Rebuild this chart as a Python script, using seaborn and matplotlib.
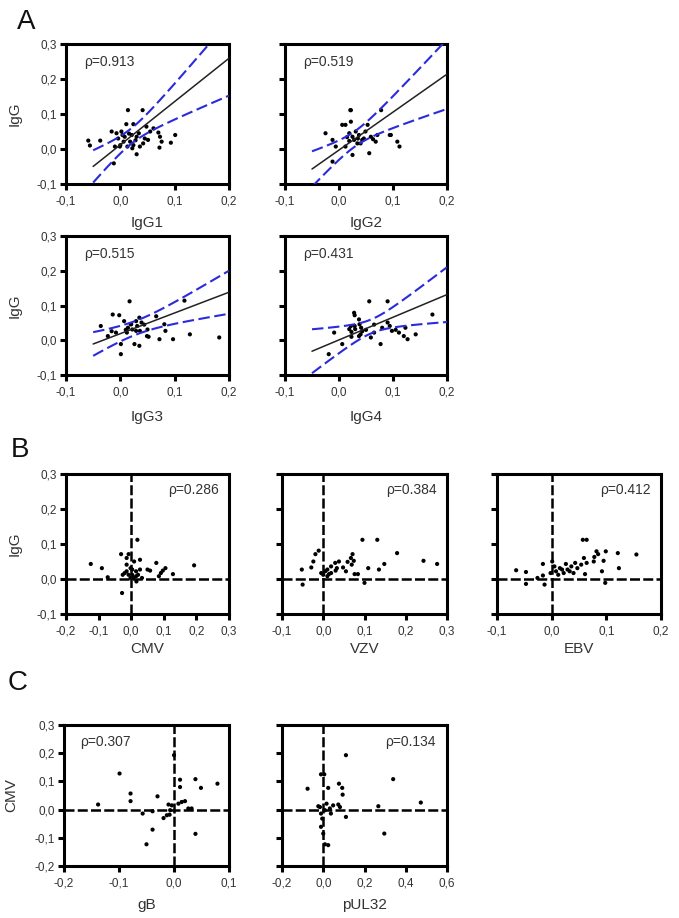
import numpy as np
import pandas as pd
import matplotlib
matplotlib.use("Agg")
import matplotlib.pyplot as plt
import seaborn as sns
from matplotlib.ticker import FixedLocator, FixedFormatter

sns.set_theme(style="white")
plt.rcParams['font.family'] = ['Liberation Sans', 'DejaVu Sans']

# ---------------- data ----------------
# Panel A : IgG subclasses vs IgG
igg1_x = [-0.059, -0.056, -0.037, -0.016, -0.010, 0.014, 0.041, 0.011, 0.024, 0.021, 0.030, 0.036,
          0.030, 0.045, 0.055, 0.061, 0.070, 0.073, 0.076, 0.072, 0.093, 0.101, -0.012, 0.000,
          0.006, -0.004, -0.001, 0.008, 0.018, 0.024, 0.042, 0.048, 0.002, -0.007, 0.013, 0.051,
          0.022, 0.034, 0.004, 0.016, 0.028]
igg1_y = [0.024, 0.010, 0.024, 0.050, 0.007, 0.111, 0.111, 0.071, 0.071, 0.040, 0.035, 0.007,
          -0.015, 0.030, 0.050, 0.059, 0.047, 0.035, 0.021, 0.004, 0.018, 0.040, -0.041, 0.011,
          0.021, 0.030, 0.007, 0.035, 0.021, 0.011, 0.016, 0.064, 0.050, 0.045, 0.007, 0.026,
          0.002, 0.045, 0.040, 0.044, 0.025]
igg2_x = [-0.025, -0.012, 0.006, 0.022, 0.022, 0.012, 0.019, 0.025, 0.031, 0.037, 0.043, 0.034,
          0.049, 0.053, 0.059, 0.068, 0.071, 0.056, 0.025, -0.012, 0.096, 0.108, 0.019, 0.028,
          0.012, 0.040, 0.046, -0.006, 0.112, 0.094, 0.078, 0.021, 0.035, 0.063, 0.015]
igg2_y = [0.045, 0.026, 0.069, 0.078, 0.111, 0.069, 0.045, 0.035, 0.050, 0.040, 0.026, 0.016,
          0.050, 0.069, 0.035, 0.021, 0.040, -0.012, -0.017, -0.036, 0.040, 0.021, 0.023, 0.026,
          0.007, 0.016, 0.030, 0.007, 0.007, 0.040, 0.111, 0.111, 0.030, 0.028, 0.034]
igg3_x = [-0.036, -0.023, -0.014, -0.002, 0.017, -0.008, 0.001, 0.001, 0.014, 0.020, 0.022, 0.029,
          0.031, 0.035, 0.036, 0.039, 0.026, 0.035, 0.050, 0.049, 0.052, 0.066, 0.072, 0.081,
          0.083, 0.097, 0.118, 0.128, 0.182, 0.019, 0.012, 0.007, -0.016, 0.029, 0.044, 0.010]
igg3_y = [0.041, 0.012, 0.074, 0.072, 0.112, 0.022, -0.011, -0.040, 0.036, 0.046, 0.031, 0.055,
          0.041, 0.065, 0.027, 0.051, -0.011, -0.016, 0.031, 0.012, 0.010, 0.069, 0.003, 0.046,
          0.027, 0.003, 0.114, 0.017, 0.008, 0.046, 0.022, 0.055, 0.026, 0.027, 0.045, 0.030]
igg4_x = [-0.019, -0.009, 0.006, 0.022, 0.023, 0.028, 0.029, 0.030, 0.037, 0.038, 0.037, 0.040,
          0.043, 0.056, 0.059, 0.065, 0.077, 0.080, 0.090, 0.090, 0.094, 0.098, 0.111, 0.120,
          0.127, 0.142, 0.173, 0.123, 0.029, 0.041, 0.019, 0.065, 0.023, 0.050, 0.105]
igg4_y = [-0.040, 0.022, -0.011, 0.041, 0.024, 0.079, 0.072, 0.032, 0.060, 0.046, 0.012, 0.017,
          0.026, 0.112, 0.008, 0.022, -0.011, 0.036, 0.112, 0.051, 0.041, 0.027, 0.022, 0.012,
          0.003, 0.017, 0.074, 0.036, 0.041, 0.036, 0.032, 0.045, 0.010, 0.030, 0.030]

# regression (black) and confidence band (blue) parameters
A_fit_slope = [1.236, 1.084, 0.596, 0.652]
A_fit_intercept = [0.012, -0.003, 0.019, 0.001]
A_band_center = [0.02, 0.03, 0.03, 0.06]
A_band_c0 = [0.022, 0.022, 0.020, 0.020]
A_band_c1 = [0.58, 0.57, 0.345, 0.545]
A_fit_xrange = [-0.05, 0.2]
A_xlabels = ["IgG1", "IgG2", "IgG3", "IgG4"]
A_rho = ["0.913", "0.519", "0.515", "0.431"]

# Panel B : virus-specific vs IgG
cmv_x = [-0.124, -0.090, -0.072, -0.031, -0.028, -0.014, -0.014, -0.008, -0.002, 0.003, 0.019,
         0.009, 0.015, 0.027, 0.021, -0.008, -0.020, 0.007, 0.033, 0.050, 0.058, 0.077, 0.085,
         0.091, 0.105, 0.097, 0.128, 0.193, -0.002, 0.016, 0.003, -0.026, 0.015, -0.014, 0.027]
cmv_y = [0.043, 0.031, 0.005, 0.071, -0.040, 0.060, 0.041, 0.071, 0.031, 0.012, 0.112,
         0.050, 0.022, 0.055, 0.012, 0.012, 0.017, 0.003, 0.003, 0.027, 0.024, 0.046, 0.008,
         0.017, 0.031, 0.024, 0.014, 0.039, 0.003, -0.007, 0.027, 0.012, 0.008, 0.022, 0.027]
vzv_x = [-0.050, -0.052, -0.029, -0.024, -0.019, -0.011, -0.005, 0.000, 0.005, 0.010, 0.014,
         0.019, 0.029, 0.033, 0.038, 0.048, 0.055, 0.059, 0.067, 0.071, 0.069, 0.074, 0.076,
         0.084, 0.095, 0.100, 0.109, 0.131, 0.135, 0.148, 0.179, 0.243, 0.276, 0.019, 0.030, 0.010]
vzv_y = [-0.016, 0.027, 0.033, 0.050, 0.071, 0.081, 0.017, 0.012, 0.022, 0.008, 0.014,
         0.036, 0.046, 0.031, 0.050, 0.033, 0.022, 0.049, 0.060, 0.071, 0.041, 0.052, 0.014,
         0.014, 0.112, -0.011, 0.031, 0.112, 0.027, 0.043, 0.074, 0.052, 0.043, 0.017, 0.024, 0.027]
ebv_x = [-0.065, -0.047, -0.047, -0.026, -0.016, -0.013, -0.016, 0.001, 0.005, 0.008, 0.012,
         0.015, 0.022, 0.026, 0.029, 0.036, 0.040, 0.043, 0.047, 0.054, 0.057, 0.064, 0.059,
         0.061, 0.064, 0.078, 0.082, 0.085, 0.095, 0.092, 0.099, 0.098, 0.123, 0.121, 0.155,
         0.077, 0.019, 0.033, -0.002]
ebv_y = [0.025, 0.020, -0.014, 0.003, 0.043, -0.016, 0.010, 0.050, 0.036, 0.022, 0.012,
         0.031, 0.017, 0.043, 0.027, 0.036, 0.017, 0.046, 0.031, 0.041, 0.112, 0.112, 0.060,
         0.014, 0.046, 0.063, 0.079, 0.071, 0.052, 0.022, 0.079, -0.011, 0.031, 0.074, 0.070,
         0.050, 0.027, 0.022, 0.017]
B_xlabels = ["CMV", "VZV", "EBV"]
B_rho = ["0.286", "0.384", "0.412"]

# Panel C : CMV antigens vs CMV
gb_x = [-0.138, -0.099, -0.079, -0.079, -0.057, -0.039, -0.030, -0.039, -0.050, -0.019, -0.013,
        -0.010, -0.007, 0.000, 0.011, 0.011, 0.008, 0.014, 0.020, 0.026, 0.032, 0.039, 0.039,
        0.049, 0.079, -0.004, -0.008]
gb_y = [0.018, 0.128, 0.057, 0.030, -0.014, -0.006, 0.047, -0.071, -0.123, -0.030, -0.020,
        0.018, -0.002, 0.193, 0.106, 0.080, 0.021, 0.027, 0.030, 0.004, 0.004, 0.108, -0.086,
        0.077, 0.092, 0.015, -0.018]
pul32_x = [-0.076, -0.011, 0.005, 0.024, 0.110, 0.076, 0.092, 0.094, 0.073, 0.081, 0.110,
           0.048, 0.032, 0.016, -0.016, -0.011, -0.005, -0.011, 0.000, 0.008, 0.024, 0.267,
           0.296, 0.339, 0.473, -0.024, 0.008, 0.037]
pul32_y = [0.074, 0.125, 0.125, 0.077, 0.193, 0.092, 0.077, 0.053, 0.018, 0.009, -0.026,
           0.015, 0.004, 0.021, 0.009, -0.014, -0.032, -0.061, -0.085, -0.123, -0.126, 0.012,
           -0.085, 0.108, 0.025, 0.012, -0.002, -0.014]
C_xlabels = ["gB", "pUL32"]
C_rho = ["0.307", "0.134"]

# ---------------- figure ----------------
fig = plt.figure(figsize=(6.79, 9.18), dpi=100)
W, H = 679.0, 918.0

def make_ax(x0, x1, y0, y1):
    return fig.add_axes([x0 / W, 1 - y1 / H, (x1 - x0) / W, (y1 - y0) / H])

TXT = "#333333"
TICK_FS = 8.5
LAB_FS = 11
RHO_FS = 10

def style(ax, xlim, xticks, xticklabels, ylim, yticks, yticklabels, show_ylab):
    ax.set_xlim(*xlim)
    ax.set_ylim(*ylim)
    ax.xaxis.set_major_locator(FixedLocator(xticks))
    ax.xaxis.set_major_formatter(FixedFormatter(xticklabels))
    ax.yaxis.set_major_locator(FixedLocator(yticks))
    ax.yaxis.set_major_formatter(FixedFormatter(yticklabels if show_ylab else [""] * len(yticks)))
    for s in ax.spines.values():
        s.set_visible(True)
        s.set_color("black")
        s.set_linewidth(2.2)
    ax.tick_params(direction="out", length=4, width=2.2, color="black",
                   labelsize=TICK_FS, labelcolor=TXT, pad=2.5,
                   bottom=True, left=True, top=False, right=False)
    ax.tick_params(axis="x", pad=4)
    ax.grid(False)
    ax.set_facecolor("white")

def dots(ax, xs, ys):
    df = pd.DataFrame({"x": xs, "y": ys})
    sns.scatterplot(data=df, x="x", y="y", ax=ax, color="black", s=9,
                    edgecolor="none", linewidth=0, zorder=3)

def refdash(ax):
    ax.axhline(0, color="black", lw=1.8, ls=(0, (4, 1.3)), zorder=2)
    ax.axvline(0, color="black", lw=1.8, ls=(0, (4, 1.3)), zorder=2)

# ---- Panel A ----
A_pos = [(66, 229, 44, 184), (285, 447, 44, 184), (66, 229, 236, 375), (285, 447, 236, 375)]
A_data = [(igg1_x, igg1_y), (igg2_x, igg2_y), (igg3_x, igg3_y), (igg4_x, igg4_y)]
A_xt = [-0.1, 0.0, 0.1, 0.2]
A_xtl = ["-0,1", "0,0", "0,1", "0,2"]
A_yt = [-0.1, 0.0, 0.1, 0.2, 0.3]
A_ytl = ["-0,1", "0,0", "0,1", "0,2", "0,3"]
for i in range(4):
    ax = make_ax(*A_pos[i])
    xs, ys = A_data[i]
    xg = np.linspace(A_fit_xrange[0], A_fit_xrange[1], 120)
    yfit = A_fit_intercept[i] + A_fit_slope[i] * xg
    hw = np.sqrt(A_band_c0[i] ** 2 + (A_band_c1[i] * (xg - A_band_center[i])) ** 2)
    ld = pd.DataFrame({"x": xg, "fit": yfit, "up": yfit + hw, "lo": yfit - hw})
    sns.lineplot(data=ld, x="x", y="fit", ax=ax, color="#222222", lw=1.1, zorder=4)
    sns.lineplot(data=ld, x="x", y="up", ax=ax, color="#2b2bdc", lw=1.5,
                 dashes=False, zorder=4).lines[-1].set_linestyle((0, (5.5, 2.2)))
    sns.lineplot(data=ld, x="x", y="lo", ax=ax, color="#2b2bdc", lw=1.5,
                 dashes=False, zorder=4).lines[-1].set_linestyle((0, (5.5, 2.2)))
    dots(ax, xs, ys)
    style(ax, (-0.1, 0.2), A_xt, A_xtl, (-0.1, 0.3), A_yt, A_ytl, i % 2 == 0)
    ax.set_xlabel(A_xlabels[i], fontsize=LAB_FS, color=TXT)
    ax.xaxis.set_label_coords(0.5, -0.23 if i < 2 else -0.25)
    if i % 2 == 0:
        ax.set_ylabel("IgG", fontsize=LAB_FS, color=TXT)
        ax.yaxis.set_label_coords(-0.27, 0.5)
    else:
        ax.set_ylabel("")
    ax.text(0.11, 0.87, "ρ=" + A_rho[i], transform=ax.transAxes, fontsize=RHO_FS,
            color=TXT, ha="left", va="center")

# ---- Panel B ----
B_pos = [(66, 229, 474, 614), (282, 447, 474, 614), (497, 661, 474, 614)]
B_data = [(cmv_x, cmv_y), (vzv_x, vzv_y), (ebv_x, ebv_y)]
B_xlim = [(-0.2, 0.3), (-0.1, 0.3), (-0.1, 0.2)]
B_xt = [[-0.2, -0.1, 0.0, 0.1, 0.2, 0.3], [-0.1, 0.0, 0.1, 0.2, 0.3], [-0.1, 0.0, 0.1, 0.2]]
B_xtl = [["-0,2", "-0,1", "0,0", "0,1", "0,2", "0,3"], ["-0,1", "0,0", "0,1", "0,2", "0,3"],
         ["-0,1", "0,0", "0,1", "0,2"]]
for i in range(3):
    ax = make_ax(*B_pos[i])
    xs, ys = B_data[i]
    refdash(ax)
    dots(ax, xs, ys)
    style(ax, B_xlim[i], B_xt[i], B_xtl[i], (-0.1, 0.3), A_yt, A_ytl, i == 0)
    ax.set_xlabel(B_xlabels[i], fontsize=LAB_FS, color=TXT)
    ax.xaxis.set_label_coords(0.5, -0.2)
    if i == 0:
        ax.set_ylabel("IgG", fontsize=LAB_FS, color=TXT)
        ax.yaxis.set_label_coords(-0.27, 0.5)
    else:
        ax.set_ylabel("")
    ax.text(0.94, 0.885, "ρ=" + B_rho[i], transform=ax.transAxes, fontsize=RHO_FS,
            color=TXT, ha="right", va="center")

# ---- Panel C ----
C_pos = [(64, 229, 725, 866), (282, 447, 725, 866)]
C_data = [(gb_x, gb_y), (pul32_x, pul32_y)]
C_xlim = [(-0.2, 0.1), (-0.2, 0.6)]
C_xt = [[-0.2, -0.1, 0.0, 0.1], [-0.2, 0.0, 0.2, 0.4, 0.6]]
C_xtl = [["-0,2", "-0,1", "0,0", "0,1"], ["-0,2", "0,0", "0,2", "0,4", "0,6"]]
C_yt = [-0.2, -0.1, 0.0, 0.1, 0.2, 0.3]
C_ytl = ["-0,2", "-0,1", "0,0", "0,1", "0,2", "0,3"]
for i in range(2):
    ax = make_ax(*C_pos[i])
    xs, ys = C_data[i]
    refdash(ax)
    dots(ax, xs, ys)
    style(ax, C_xlim[i], C_xt[i], C_xtl[i], (-0.2, 0.3), C_yt, C_ytl, i == 0)
    ax.set_xlabel(C_xlabels[i], fontsize=LAB_FS, color=TXT)
    ax.xaxis.set_label_coords(0.5, -0.23)
    if i == 0:
        ax.set_ylabel("CMV", fontsize=LAB_FS, color=TXT)
        ax.yaxis.set_label_coords(-0.28, 0.5)
        ax.text(0.1, 0.88, "ρ=" + C_rho[i], transform=ax.transAxes, fontsize=RHO_FS,
                color=TXT, ha="left", va="center")
    else:
        ax.set_ylabel("")
        ax.text(0.93, 0.88, "ρ=" + C_rho[i], transform=ax.transAxes, fontsize=RHO_FS,
                color=TXT, ha="right", va="center")

# panel letters
fig.text(17 / W, 1 - 9 / H, "A", fontsize=20, va="top", ha="left", color="#111111")
fig.text(11 / W, 1 - 437 / H, "B", fontsize=20, va="top", ha="left", color="#111111")
fig.text(8 / W, 1 - 670 / H, "C", fontsize=20, va="top", ha="left", color="#111111")

fig.savefig("out.png", dpi=100, facecolor="white")
